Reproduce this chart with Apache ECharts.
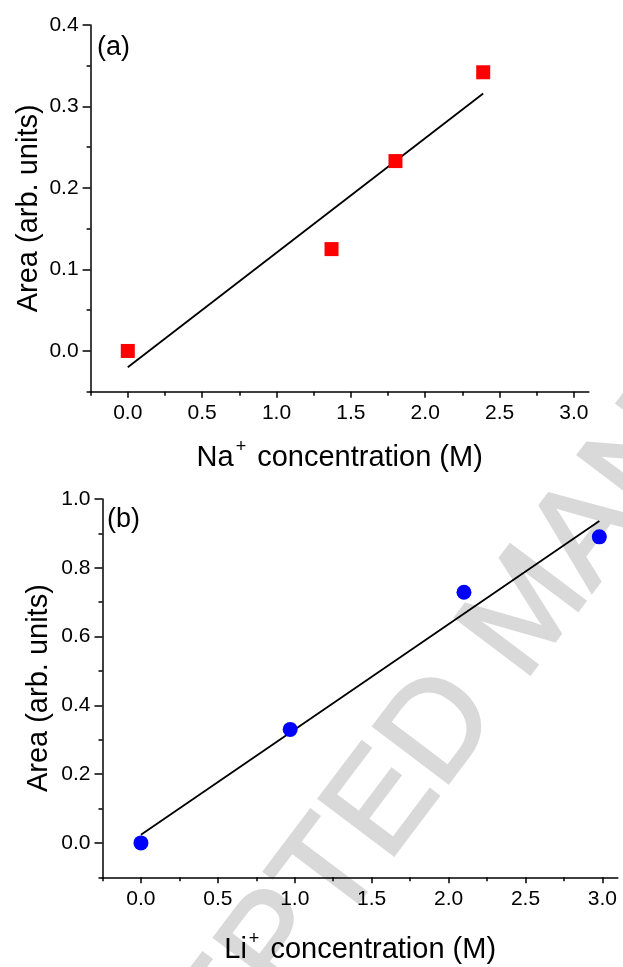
<!DOCTYPE html>
<html><head><meta charset="utf-8">
<script src="https://cdn.jsdelivr.net/npm/echarts@6/dist/echarts.min.js"></script>
<style>html,body{margin:0;padding:0;background:#fff}#c{width:623px;height:967px}</style>
</head><body><div id="c"></div>
<script>
// ---- data ----
const naConc = [0, 1.37, 1.80, 2.39];
const naArea = [0, 0.125, 0.233, 0.342];
const naFitX = [0, 2.39];
const naFitY = [-0.020, 0.316];
const liConc = [0, 0.97, 2.10, 2.98];
const liArea = [0, 0.33, 0.729, 0.89];
const liFitX = [0, 2.98];
const liFitY = [0.024, 0.936];
// ---- ticks ----
const xMajorTicks = [0, 0.5, 1.0, 1.5, 2.0, 2.5, 3.0];
const xMinorTicks = [-0.25, 0.25, 0.75, 1.25, 1.75, 2.25, 2.75];
const yaMajorTicks = [0, 0.1, 0.2, 0.3, 0.4];
const yaMinorTicks = [-0.05, 0.05, 0.15, 0.25, 0.35];
const ybMajorTicks = [0, 0.2, 0.4, 0.6, 0.8, 1.0];
const ybMinorTicks = [-0.1, 0.1, 0.3, 0.5, 0.7, 0.9];

const F = '"Liberation Sans", Arial, sans-serif';
const pairs = (xs, ys) => xs.map((x, i) => [x, ys[i]]);

function mainAxis(dim, gridIndex, min, max, ticks, name, gap, tickLen) {
  return {
    type: 'value', gridIndex, min, max,
    position: dim === 'x' ? 'bottom' : 'left',
    axisLine: { show: true, onZero: false, lineStyle: { color: '#000', width: 1.5 } },
    axisTick: { show: true, inside: false, length: tickLen, customValues: ticks, lineStyle: { color: '#000', width: 1.5 } },
    axisLabel: { customValues: ticks, formatter: v => v.toFixed(1), fontSize: 21, color: '#000', fontFamily: F, margin: dim === 'x' ? 11 : 12 },
    splitLine: { show: false },
    name: name, nameLocation: 'middle', nameGap: gap, nameMoveOverlap: false,
    nameTextStyle: {
      fontSize: 29, color: '#000', fontFamily: F,
      rich: {
        n: { fontSize: 29, color: '#000', fontFamily: F },
        s: { fontSize: 18, color: '#000', fontFamily: F, padding: [0, 3, 22, 2] }
      }
    }
  };
}
function minorAxis(dim, gridIndex, min, max, ticks, tickLen) {
  return {
    type: 'value', gridIndex, min, max,
    position: dim === 'x' ? 'bottom' : 'left',
    axisLine: { show: false, onZero: false },
    axisTick: { show: true, inside: false, length: tickLen, customValues: ticks, lineStyle: { color: '#000', width: 1.5 } },
    axisLabel: { show: false },
    splitLine: { show: false }
  };
}

const chart = echarts.init(document.getElementById('c'), null, { renderer: 'canvas' });
chart.setOption({
  animation: false,
  backgroundColor: '#fff',
  grid: [
    { left: 90.6, top: 25, width: 498.2, height: 366.7 },
    { left: 102.5, top: 499, width: 515.3, height: 378.3 }
  ],
  xAxis: [
    mainAxis('x', 0, -0.25, 3.1, xMajorTicks, '{n|Na}{s|+}{n| concentration (M)}', 46, 6),
    minorAxis('x', 0, -0.25, 3.1, xMinorTicks, 4),
    mainAxis('x', 1, -0.25, 3.1, xMajorTicks, '{n|Li}{s|+}{n| concentration (M)}', 53, 6),
    minorAxis('x', 1, -0.25, 3.1, xMinorTicks, 4)
  ],
  yAxis: [
    mainAxis('y', 0, -0.05, 0.4, yaMajorTicks, 'Area (arb. units)', 47, 8),
    minorAxis('y', 0, -0.05, 0.4, yaMinorTicks, 4),
    mainAxis('y', 1, -0.1, 1.0, ybMajorTicks, 'Area (arb. units)', 49, 8),
    minorAxis('y', 1, -0.1, 1.0, ybMinorTicks, 4)
  ],
  graphic: [
    { type: 'text', z: -10, x: 530, y: 612, rotation: 53 * Math.PI / 180,
      style: { text: 'ACCEPTED MANUSCRIPT', fontSize: 136, fontFamily: F, fill: '#d9d9d9', stroke: '#d9d9d9', lineWidth: 3,
               align: 'center', verticalAlign: 'middle', textAlign: 'center', textVerticalAlign: 'middle' } },
    { type: 'text', left: 97, top: 34, style: { text: '(a)', fontSize: 27, fontFamily: F, fill: '#000' } },
    { type: 'text', left: 107, top: 506, style: { text: '(b)', fontSize: 27, fontFamily: F, fill: '#000' } }
  ],
  series: [
    { type: 'line', xAxisIndex: 0, yAxisIndex: 0, data: pairs(naFitX, naFitY), showSymbol: false, symbol: 'none',
      lineStyle: { color: '#000', width: 1.8 }, z: 2 },
    { type: 'scatter', xAxisIndex: 0, yAxisIndex: 0, data: pairs(naConc, naArea), symbol: 'rect', symbolSize: 14,
      itemStyle: { color: '#ff0000', opacity: 1 }, z: 3 },
    { type: 'line', xAxisIndex: 2, yAxisIndex: 2, data: pairs(liFitX, liFitY), showSymbol: false, symbol: 'none',
      lineStyle: { color: '#000', width: 1.8 }, z: 2 },
    { type: 'scatter', xAxisIndex: 2, yAxisIndex: 2, data: pairs(liConc, liArea), symbol: 'circle', symbolSize: 15,
      itemStyle: { color: '#0000ff', opacity: 1 }, z: 3 }
  ]
});
</script>
</body></html>
